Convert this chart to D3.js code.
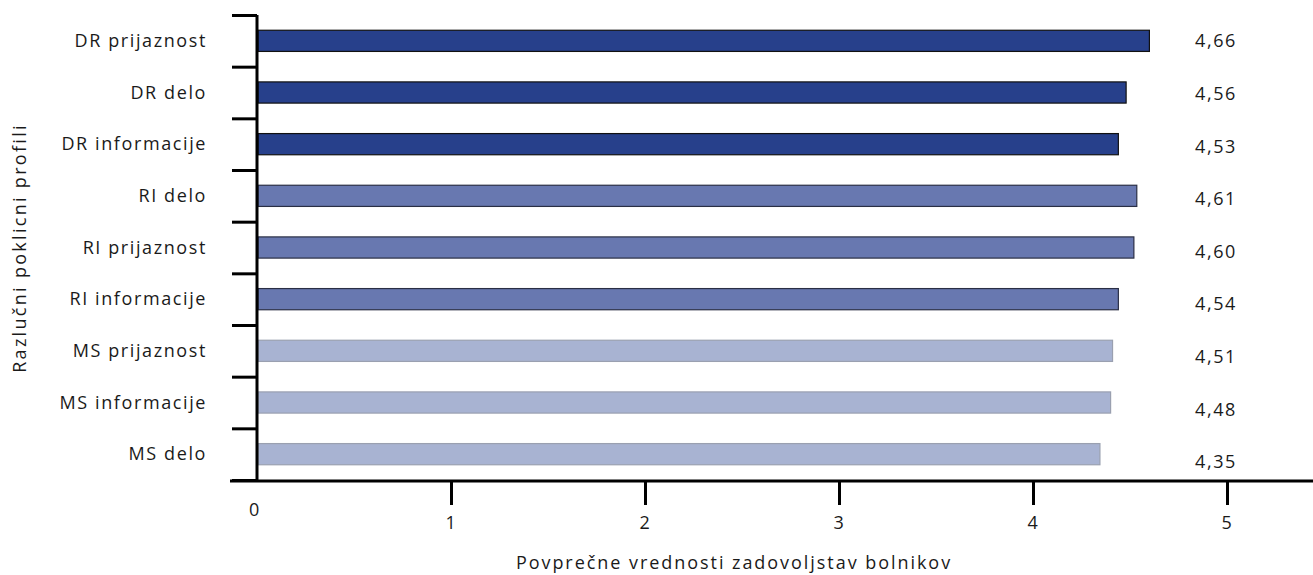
<!DOCTYPE html>
<html>
<head>
<meta charset="utf-8">
<script src="https://cdn.jsdelivr.net/npm/d3@7"></script>
<style>
  body { margin: 0; background: #fff; }
  text { font-family: "Open Sans", Roboto, sans-serif; fill: #1a1a1a; letter-spacing: 1.6px; }
</style>
</head>
<body>
<div id="chart"></div>
<script>
// kategorije od zgoraj navzdol
const categories = ["DR prijaznost", "DR delo", "DR informacije",
    "RI delo", "RI prijaznost", "RI informacije",
    "MS prijaznost", "MS informacije", "MS delo"];
// dolzine stolpcev, kot so narisane
const barValues = [4.60, 4.48, 4.44, 4.535, 4.52, 4.44, 4.41, 4.40, 4.345];
// vrednosti v oznakah
const labelValues = [4.66, 4.56, 4.53, 4.61, 4.60, 4.54, 4.51, 4.48, 4.35];
const xTicks = [1, 2, 3, 4, 5];
const groups = ["DR", "RI", "MS"];

const width = 1313, height = 575;
const svg = d3.select("#chart").append("svg")
    .attr("width", width).attr("height", height);

let x = d3.scaleLinear().domain([0, 5]).range([257, 1227]);
let y = d3.scaleBand().domain(categories).range([15, 480]).paddingInner(0.59).paddingOuter(0.295);
let yTick = d3.scaleLinear().domain([0, categories.length]).range([15, 480]);
let yLab = d3.scalePoint().domain(categories).range([41, 462]);
let color = d3.scaleOrdinal().domain(groups).range(["#27408b", "#6878b0", "#a8b3d2"]);
let edge = d3.scaleOrdinal().domain(groups).range(["#111", "#2a2f45", "#9aa0b0"]);

// stolpci
svg.append("g")
   .selectAll("rect")
   .data(categories)
   .join("rect")
    .attr("x", x(0) + 1)
    .attr("y", d => y(d))
    .attr("width", (d, i) => x(barValues[i]) - x(0) - 1)
    .attr("height", y.bandwidth())
    .attr("fill", d => color(d.slice(0, 2)))
    .attr("stroke", d => edge(d.slice(0, 2)))
    .attr("stroke-width", 1.2);

// oznake vrednosti
svg.append("g")
   .selectAll("text")
   .data(categories)
   .join("text")
    .attr("x", 1195)
    .attr("y", d => yLab(d))
    .attr("dy", "0.35em")
    .attr("font-size", 18)
    .text((d, i) => d3.format(".2f")(labelValues[i]).replace(".", ","));

// os y
let yAxis = svg.append("g")
    .attr("transform", "translate(" + x(0) + ",0)")
    .call(d3.axisLeft(yTick).ticks(categories.length).tickSize(25).tickFormat(""));
yAxis.selectAll("line").attr("stroke", "#000").attr("stroke-width", 3);
yAxis.select(".domain").attr("stroke", "#000").attr("stroke-width", 3).attr("d", "M0,15V480");

svg.append("g")
   .selectAll("text")
   .data(categories)
   .join("text")
    .attr("x", 207)
    .attr("y", d => y(d) + y.bandwidth() / 2)
    .attr("dy", "0.35em")
    .attr("text-anchor", "end")
    .attr("font-size", 18)
    .text(d => d);

// os x
let xAxis = svg.append("g")
    .attr("transform", "translate(0,481)")
    .call(d3.axisBottom(x).tickValues(xTicks).tickSize(24).tickPadding(11).tickFormat(d3.format("d")));
xAxis.select(".domain").remove();
xAxis.selectAll("line").attr("stroke", "#000").attr("stroke-width", 3);
xAxis.selectAll("text").attr("font-size", 18).attr("fill", "#1a1a1a")
    .style("font-family", "'Open Sans', sans-serif");

svg.append("line")
    .attr("x1", x(0) - 27).attr("x2", width)
    .attr("y1", 481).attr("y2", 481)
    .attr("stroke", "#000").attr("stroke-width", 3);

svg.append("text")
    .attr("x", x(0) - 2)
    .attr("y", 510)
    .attr("dy", "0.35em")
    .attr("text-anchor", "middle")
    .attr("font-size", 18)
    .text("0");

// naslova osi
svg.append("text")
    .attr("x", 734)
    .attr("y", 563)
    .attr("dy", "0.35em")
    .attr("text-anchor", "middle")
    .attr("font-size", 18)
    .style("letter-spacing", "1.95px")
    .text("Povprečne vrednosti zadovoljstav bolnikov");

svg.append("text")
    .attr("transform", "translate(20,248) rotate(-90)")
    .attr("dy", "0.35em")
    .attr("text-anchor", "middle")
    .attr("font-size", 18)
    .style("letter-spacing", "2.3px")
    .text("Razlučni poklicni profili");
</script>
</body>
</html>
